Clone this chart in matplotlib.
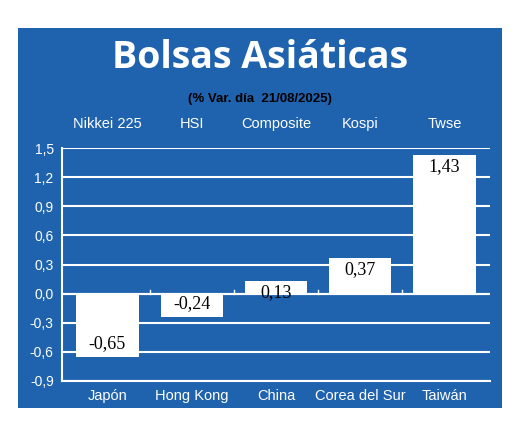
import matplotlib.pyplot as plt
from matplotlib.patches import Rectangle

countries = ["Japón", "Hong Kong", "China", "Corea del Sur", "Taiwán"]
indices = ["Nikkei 225", "HSI", "Composite", "Kospi", "Twse"]
values = [-0.65, -0.24, 0.13, 0.37, 1.43]
yticks = [-0.9, -0.6, -0.3, 0.0, 0.3, 0.6, 0.9, 1.2, 1.5]

blue = "#1f62ad"
fig = plt.figure(figsize=(5.2, 4.33), dpi=100)
fig.patch.set_facecolor("white")
fig.add_artist(Rectangle((18 / 520, 1 - 408 / 433), 484 / 520, 380 / 433,
                         transform=fig.transFigure, facecolor=blue, edgecolor="none", zorder=0))

fig.text(0.5, 1 - 58 / 433, "Bolsas Asiáticas", color="white", fontsize=27,
         fontweight="bold", ha="center", va="center", family="Open Sans")
fig.text(0.5, 1 - 99 / 433, "(% Var. día  21/08/2025)", color="black", fontsize=9.5,
         fontweight="bold", ha="center", va="center", family="Liberation Sans")

ax = fig.add_axes([62 / 520, 1 - 381 / 433, 428 / 520, 233 / 433])
ax.set_facecolor(blue)
x = range(len(values))
ax.bar(x, values, width=0.74, color="white", zorder=3)
for xi, v in zip(x, values):
    if v >= 0:
        ax.text(xi, v - 0.03, f"{v:.2f}".replace(".", ","), ha="center", va="top",
                fontsize=13, family="Liberation Serif", zorder=4)
    else:
        ax.text(xi, v + 0.05, f"{v:.2f}".replace(".", ","), ha="center", va="bottom",
                fontsize=13, family="Liberation Serif", zorder=4)
for xi, name in zip(x, indices):
    ax.text(xi, 1.75, name, ha="center", va="center", color="white", fontsize=10.5,
            family="Liberation Sans")

ax.set_xlim(-0.54, 4.54)
ax.set_ylim(-0.9, 1.5)
ax.set_yticks(yticks)
ax.set_yticklabels([f"{t:.1f}".replace(".", ",") for t in yticks], color="white",
                   fontsize=10, family="Liberation Sans")
ax.yaxis.grid(True, color="white", linewidth=1.5, zorder=1)
ax.axhline(0, color="white", linewidth=1.5, zorder=2)
for b in [0.5, 1.5, 2.5, 3.5]:
    ax.plot([b, b], [0, 0.04], color="white", linewidth=1, zorder=2)
ax.set_xticks(list(x))
ax.set_xticklabels(countries, color="white", fontsize=10.5, family="Liberation Sans")
ax.tick_params(length=0, pad=6)
for s in ["top", "right"]:
    ax.spines[s].set_visible(False)
for s in ["left", "bottom"]:
    ax.spines[s].set_color("white")
    ax.spines[s].set_linewidth(1.5)

fig.savefig("out.png", dpi=100)
